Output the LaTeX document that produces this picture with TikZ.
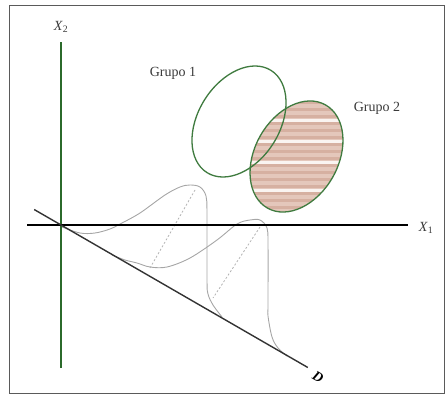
\documentclass[tikz,border=0pt]{standalone}
\usepackage{fontspec}
\setmainfont{Liberation Serif}
\usepackage{xcolor}
\definecolor{cAxis}{HTML}{2B6A2B}
\definecolor{cRing}{HTML}{3F7B3F}
\definecolor{cFill}{HTML}{E4C7BB}
\definecolor{cStripe}{HTML}{D6B0A1}
\definecolor{cBell}{HTML}{A6A6A6}
\definecolor{cFrame}{HTML}{5A5A5A}
\definecolor{cText}{HTML}{3A3A3A}
\usepackage{tikz}
\usetikzlibrary{calc}
\tikzset{
  axis-x/.style={line width=2.2pt,draw=black},
  axis-y/.style={line width=2pt,draw=cAxis},
  axis-d/.style={line width=1.4pt,draw=black!80},
  group-ring/.style={line width=1.3pt,draw=cRing},
  % curvas de densidad proyectadas sobre D
  bell/.style={line width=0.9pt,draw=cBell},
  bell-axis/.style={line width=0.8pt,draw=cBell!85,dash pattern=on 2pt off 2pt},
  label-txt/.style={font=\fontsize{14}{16}\selectfont,text=cText,inner sep=0pt},
}

\begin{document}
\begin{tikzpicture}[x=1pt,y=1pt]
  \useasboundingbox (0,0) rectangle (446,394);
  \draw[cFrame,line width=0.9pt] (9.5,1) rectangle (444.5,389);

  \coordinate (o)      at (61,169);
  \coordinate (x1-lo)  at (27,169);
  \coordinate (x1-hi)  at (408,169);
  \coordinate (x2-lo)  at (61,26);
  \coordinate (x2-hi)  at (61,352);
  \coordinate (d-lo)   at ($(o)+(150:31)$);
  \coordinate (d-hi)   at ($(o)+(-30:285)$);

  % grupo 2 (relleno rayado)
  \begin{scope}
    \clip[rotate around={60.75:(296.5,237.5)}] (296.5,237.5) ellipse (59.2 and 41.7);
    \fill[cFill] (230,170) rectangle (360,300);
    \foreach \y in {178,185,...,298}
      \fill[cStripe] (230,\y) rectangle (360,\y+3.2);
    \foreach \y in {199,227,248,269}
      \fill[white!80!cFill] (230,\y+3.4) rectangle (360,\y+6.4);
  \end{scope}
  \draw[group-ring,rotate around={58:(239,272.5)}] (239,272.5) ellipse (60.3 and 40.7);
  \draw[group-ring,rotate around={60.75:(296.5,237.5)}] (296.5,237.5) ellipse (59.2 and 41.7);

  % campanas
  \draw[bell] plot[smooth,tension=0.55] coordinates {
    (62,167) (80,161) (95,161) (110,165) (122,171) (140,181) (165,199)
    (180,207) (190,209) (200,207) (206,198) (207,180) (207,114) (208,100)
    (213,89) (222,77)};
  \draw[bell] plot[smooth,tension=0.55] coordinates {
    (112,139) (125,134) (137,131) (150,127) (167,127) (190,136) (217,154)
    (237,170) (250,174) (260,174) (267,166) (268,150) (268,89) (268,78)
    (272,57) (278,46) (287,38)};
  \draw[bell-axis] (195,204) -- (150,126);
  \draw[bell-axis] (260,167) -- (213,96);

  % ejes
  \draw[axis-y] (x2-lo) -- (x2-hi);
  \draw[axis-x] (x1-lo) -- (x1-hi);
  \draw[axis-d] (d-lo) -- (d-hi);

  \node[label-txt] (x2-lbl) at (61,367) {\textit{X}\textsubscript{2}};
  \node[label-txt] (x1-lbl) at (426,166) {\textit{X}\textsubscript{1}};
  \node[label-txt,text=black,rotate=-30] (d-lbl) at (318,17) {\textbf{\textit{D}}};
  \node[label-txt] (grp1-lbl) at (173,321) {Grupo 1};
  \node[label-txt] (grp2-lbl) at (377,286) {Grupo 2};
\end{tikzpicture}
\end{document}
